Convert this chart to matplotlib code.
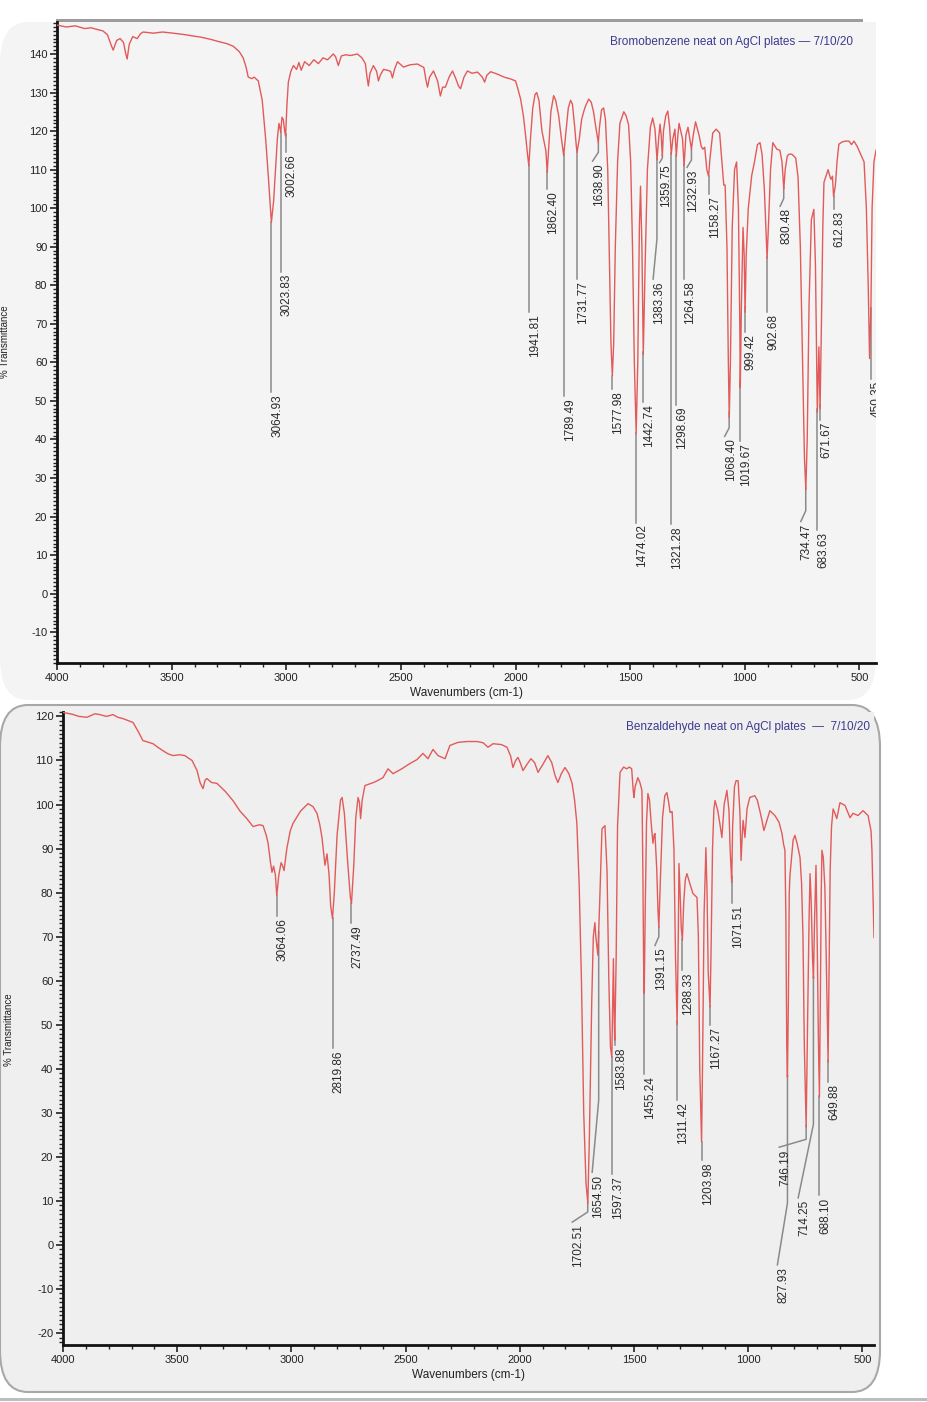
#IR spectra: bromobenzene and benzaldehyde (neat, AgCl plates)

import numpy as np
import matplotlib.pyplot as plt
from matplotlib.ticker import MultipleLocator
from matplotlib.patches import FancyBboxPatch, Rectangle

plt.rcParams['font.family'] = ['Liberation Sans', 'DejaVu Sans']
plt.rcParams['axes.unicode_minus'] = False

# ---- bromobenzene spectrum (wavenumber, %T) ----
bb_wn = [4000, 3960, 3920, 3880, 3850, 3834, 3800, 3780, 3765, 3755, 3740, 3725, 3710, 3700, 3694,
         3685, 3670, 3650, 3635, 3624, 3580, 3540, 3493, 3440, 3400, 3375, 3330, 3300, 3260, 3231,
         3205, 3188, 3175, 3166, 3150, 3140, 3122, 3105, 3090, 3078, 3068, 3065, 3055, 3045, 3039,
         3032, 3024, 3019, 3013, 3007, 3003, 2997, 2991, 2980, 2969, 2955, 2945, 2935, 2920, 2900,
         2880, 2860, 2840, 2820, 2795, 2785, 2773, 2760, 2740, 2720, 2690, 2670, 2655, 2648, 2642,
         2635, 2620, 2606, 2598, 2590, 2576, 2560, 2545, 2537, 2528, 2515, 2489, 2460, 2428, 2400,
         2390, 2384, 2375, 2358, 2340, 2328, 2318, 2306, 2290, 2275, 2260, 2249, 2240, 2225, 2210,
         2190, 2166, 2145, 2135, 2125, 2109, 2080, 2050, 2020, 2000, 1990, 1978, 1966, 1956, 1948,
         1942, 1935, 1925, 1915, 1908, 1898, 1885, 1875, 1868, 1862, 1855, 1846, 1834, 1825, 1812,
         1800, 1790, 1780, 1770, 1760, 1752, 1742, 1735, 1732, 1722, 1712, 1703, 1695, 1681, 1670,
         1660, 1650, 1639, 1634, 1625, 1616, 1608, 1598, 1590, 1584, 1578, 1572, 1565, 1555, 1545,
         1528, 1518, 1507, 1498, 1490, 1482, 1474, 1467, 1460, 1455, 1449, 1443, 1435, 1425, 1412,
         1402, 1392, 1383, 1376, 1370, 1365, 1360, 1355, 1345, 1336, 1328, 1321, 1314, 1305, 1299,
         1292, 1287, 1272, 1265, 1257, 1248, 1240, 1233, 1225, 1215, 1200, 1190, 1183, 1175, 1166,
         1158, 1152, 1140, 1125, 1110, 1100, 1092, 1086, 1078, 1072, 1068, 1063, 1055, 1045, 1036,
         1028, 1022, 1020, 1015, 1008, 1003, 999, 994, 985, 970, 958, 945, 934, 925, 915,
         906, 903, 896, 888, 878, 868, 860, 847, 838, 830, 824, 815, 808, 795, 778,
         768, 758, 748, 740, 734, 728, 720, 710, 699, 692, 686, 684, 677, 672, 666,
         660, 655, 645, 637, 628, 624, 618, 613, 605, 598, 590, 575, 560, 546, 535,
         524, 510, 495, 480, 470, 462, 456, 450, 445, 437, 428]
bb_T = [147.5, 147.0, 147.3, 146.6, 146.8, 146.5, 146.0, 145.0, 142.5, 141.0, 143.5, 144.0, 143.0, 140.0, 138.7,
        142.5, 144.5, 144.0, 145.3, 145.7, 145.4, 145.7, 145.4, 145.0, 144.6, 144.4, 143.8, 143.3, 142.7, 142.0,
        140.6, 139.0, 136.5, 134.0, 133.6, 134.0, 133.0, 128.0, 118.0, 108.0, 99.0, 96.3, 102.0, 112.0, 118.0,
        122.0, 119.7, 123.6, 123.0, 120.0, 118.7, 127.0, 132.7, 135.5, 137.0, 136.0, 137.8, 135.8, 138.0, 137.0,
        138.5, 137.5, 139.0, 138.5, 140.0, 139.3, 137.0, 139.5, 139.8, 139.6, 140.0, 139.0, 137.5, 134.0, 131.7,
        135.0, 137.0, 135.5, 133.0, 134.5, 136.0, 135.8, 135.5, 133.8, 136.0, 138.0, 136.6, 137.2, 137.4, 136.5,
        133.0, 131.4, 134.0, 135.6, 133.0, 129.1, 131.4, 131.4, 134.0, 135.6, 133.5, 131.7, 131.0, 134.0, 135.6,
        135.0, 135.3, 134.0, 132.7, 134.5, 135.4, 134.8, 134.0, 133.5, 133.0, 131.0, 128.3, 124.0, 118.7, 114.0,
        111.0, 118.0, 126.0, 129.5, 130.0, 128.0, 120.0, 117.0, 115.0, 109.3, 116.0, 125.0, 129.2, 128.0, 124.0,
        118.0, 113.6, 120.0, 126.0, 128.0, 127.0, 121.0, 116.0, 114.5, 118.0, 123.0, 125.0, 126.5, 128.3, 127.5,
        125.0, 121.0, 117.0, 121.0, 125.5, 126.0, 123.0, 110.0, 85.0, 65.0, 56.5, 65.0, 90.0, 112.0, 122.0,
        125.0, 124.0, 121.6, 112.0, 90.0, 60.0, 41.5, 60.0, 95.0, 105.7, 90.0, 62.0, 85.0, 110.0, 121.0,
        123.4, 120.5, 112.5, 118.0, 121.8, 119.0, 113.5, 120.0, 124.0, 125.2, 121.0, 114.0, 118.0, 120.5, 113.5,
        119.0, 122.0, 118.0, 111.0, 119.0, 121.0, 118.0, 115.3, 119.0, 122.4, 119.0, 116.0, 115.3, 115.8, 110.0,
        108.3, 113.0, 119.5, 120.5, 119.5, 112.0, 106.0, 106.0, 90.0, 60.0, 45.7, 60.0, 95.0, 110.0, 112.0,
        100.0, 70.0, 53.5, 75.0, 95.0, 88.0, 73.0, 88.0, 100.0, 108.5, 112.0, 116.5, 117.0, 114.0, 105.0,
        92.0, 87.0, 97.0, 110.0, 117.0, 116.0, 115.3, 115.0, 112.0, 105.0, 110.0, 113.5, 114.0, 114.0, 113.0,
        108.0, 90.0, 60.0, 35.0, 27.0, 40.0, 75.0, 97.0, 99.7, 85.0, 55.0, 47.0, 64.0, 48.0, 70.0,
        95.0, 106.7, 108.5, 110.0, 108.0, 107.5, 108.3, 103.0, 106.0, 112.0, 116.6, 117.2, 117.4, 117.4, 116.5,
        117.4, 116.0, 114.0, 112.0, 100.0, 80.0, 61.0, 75.0, 100.0, 112.0, 115.0]

# ---- benzaldehyde spectrum (wavenumber, %T) ----
bz_wn = [4000, 3960, 3930, 3895, 3860, 3838, 3810, 3781, 3760, 3737, 3693, 3670, 3650, 3630, 3606,
         3585, 3562, 3540, 3518, 3490, 3466, 3450, 3435, 3413, 3400, 3387, 3378, 3370, 3350, 3326,
         3290, 3256, 3225, 3195, 3168, 3140, 3124, 3110, 3102, 3092, 3085, 3078, 3070, 3064, 3055,
         3045, 3038, 3032, 3020, 3005, 2993, 2960, 2927, 2905, 2888, 2876, 2866, 2853, 2844, 2835,
         2828, 2820, 2812, 2800, 2785, 2778, 2768, 2755, 2742, 2737, 2727, 2718, 2708, 2702, 2697,
         2690, 2678, 2640, 2620, 2599, 2577, 2555, 2520, 2481, 2450, 2424, 2402, 2380, 2358, 2327,
         2306, 2271, 2230, 2187, 2160, 2139, 2117, 2080, 2056, 2040, 2030, 2018, 2008, 1998, 1986,
         1970, 1951, 1935, 1920, 1900, 1877, 1860, 1845, 1833, 1818, 1802, 1785, 1771, 1760, 1750,
         1740, 1730, 1720, 1710, 1702, 1695, 1685, 1678, 1671, 1667, 1658, 1650, 1640, 1627, 1618,
         1610, 1603, 1597, 1593, 1590, 1586, 1584, 1578, 1572, 1561, 1545, 1532, 1520, 1510, 1503,
         1500, 1495, 1483, 1474, 1465, 1461, 1458, 1455, 1451, 1445, 1439, 1432, 1425, 1417, 1412,
         1408, 1400, 1395, 1391, 1385, 1375, 1365, 1356, 1348, 1342, 1333, 1325, 1318, 1311, 1306,
         1303, 1298, 1293, 1288, 1282, 1275, 1268, 1255, 1242, 1224, 1218, 1212, 1204, 1200, 1193,
         1185, 1180, 1175, 1167, 1163, 1156, 1150, 1145, 1133, 1122, 1115, 1105, 1093, 1084, 1079,
         1072, 1068, 1060, 1053, 1044, 1036, 1031, 1026, 1022, 1014, 1005, 993, 971, 960, 949,
         940, 931, 920, 905, 883, 865, 852, 845, 839, 835, 831, 828, 824, 820, 817,
         810, 803, 795, 785, 773, 766, 760, 754, 746, 740, 733, 729, 724, 718, 714,
         710, 703, 698, 692, 688, 684, 680, 677, 671, 664, 658, 652, 650, 646, 641,
         635, 628, 620, 612, 598, 576, 554, 541, 519, 497, 475, 462, 458, 449]
bz_T = [120.9, 120.5, 120.0, 119.8, 120.6, 120.4, 120.0, 120.4, 119.8, 119.5, 118.6, 116.5, 114.5, 114.2, 113.8,
        113.0, 112.2, 111.5, 111.1, 111.3, 111.1, 110.5, 110.0, 107.7, 105.0, 103.6, 105.5, 105.9, 105.0, 104.8,
        103.0, 100.9, 98.5, 96.8, 95.0, 95.4, 95.2, 93.0, 91.2, 87.0, 84.6, 86.0, 84.0, 79.4, 84.0,
        86.8, 86.0, 85.0, 90.0, 94.0, 95.7, 98.5, 100.2, 99.5, 98.0, 95.5, 92.5, 86.2, 88.8, 84.0,
        77.0, 74.1, 80.0, 93.0, 101.0, 101.6, 98.0, 88.0, 79.0, 77.5, 86.0, 97.0, 101.6, 100.5, 96.8,
        101.0, 104.3, 105.0, 105.5, 106.1, 108.1, 107.0, 108.0, 109.3, 110.2, 111.6, 110.4, 112.5, 111.1, 110.4,
        113.4, 114.1, 114.3, 114.3, 114.0, 113.0, 113.8, 113.6, 113.0, 111.0, 108.4, 110.0, 110.7, 109.5, 107.7,
        109.0, 110.4, 109.5, 107.3, 109.0, 111.1, 109.5, 106.5, 105.0, 107.0, 108.4, 107.0, 104.8, 101.0, 95.7,
        82.0, 60.0, 30.0, 14.0, 9.5, 25.0, 55.0, 70.0, 73.2, 70.0, 65.8, 78.0, 94.5, 95.2, 85.0,
        60.0, 45.0, 42.6, 55.0, 65.0, 50.0, 46.5, 65.0, 95.0, 107.3, 108.5, 108.1, 108.5, 108.1, 103.0,
        101.6, 104.0, 106.1, 105.0, 103.2, 85.0, 65.0, 57.1, 75.0, 96.0, 102.5, 101.0, 96.0, 91.2, 93.0,
        93.4, 85.0, 76.0, 72.1, 82.0, 97.0, 102.0, 102.7, 100.5, 98.2, 98.4, 90.0, 65.0, 50.0, 70.0,
        86.6, 80.0, 72.0, 69.2, 78.0, 83.0, 84.3, 82.0, 79.8, 78.9, 70.0, 40.0, 23.4, 40.0, 75.0,
        90.2, 80.0, 62.0, 54.0, 65.0, 90.0, 99.0, 100.9, 98.6, 95.0, 92.5, 100.0, 103.2, 98.6, 90.0,
        82.3, 95.0, 104.0, 105.4, 105.4, 98.0, 87.3, 93.0, 96.4, 92.5, 99.0, 101.6, 102.0, 101.0, 98.6,
        96.5, 94.1, 96.0, 98.6, 97.5, 96.0, 93.4, 91.0, 89.6, 75.0, 45.0, 38.1, 55.0, 80.0, 83.9,
        88.0, 92.0, 93.0, 91.0, 88.0, 82.0, 70.0, 45.0, 26.8, 50.0, 75.0, 84.3, 78.0, 65.0, 60.5,
        72.0, 86.2, 70.0, 45.0, 33.6, 55.0, 80.0, 89.6, 88.0, 81.0, 65.0, 47.0, 41.5, 60.0, 85.0,
        95.0, 99.0, 98.0, 96.8, 100.4, 99.8, 97.0, 98.0, 97.5, 98.6, 97.5, 94.0, 89.6, 69.8]

# ---- peak picks ----
bb_peaks = [3064.93, 3023.83, 3002.66, 1941.81, 1862.40, 1789.49, 1731.77, 1638.90, 1577.98,
            1474.02, 1442.74, 1383.36, 1359.75, 1321.28, 1298.69, 1264.58, 1232.93, 1158.27,
            1068.40, 1019.67, 999.42, 902.68, 830.48, 734.47, 683.63, 671.67, 612.83, 450.35]
bz_peaks = [3064.06, 2819.86, 2737.49, 1702.51, 1654.50, 1597.37, 1583.88, 1455.24, 1391.15,
            1311.42, 1288.33, 1203.98, 1167.27, 1071.51, 827.93, 746.19, 714.25, 688.10, 649.88]

# where the label text starts (top of rotated text, %T)
bb_label_T = [52.2, 83.4, 114.5, 73.0, 105.0, 51.2, 81.6, 112.2, 53.0,
              18.4, 49.6, 81.6, 111.8, 18.0, 49.0, 81.6, 110.6, 103.6,
              40.8, 39.5, 67.8, 73.0, 100.5, 18.7, 16.6, 45.0, 99.7, 55.6]
bz_label_T = [74.8, 44.7, 73.0, 5.2, 16.5, 16.1, 45.3, 38.8, 68.0,
              32.9, 62.4, 19.3, 49.9, 77.6, -4.5, 22.2, 10.7, 11.3, 37.0]

# bent leaders: peak -> (label wavenumber, %T where the bend starts)
bb_bends = {1638.90: (1664, 114.5), 1383.36: (1400, 92.0), 1359.75: (1372, 113.0),
            1232.93: (1252, 112.5), 1068.40: (1088, 43.0), 830.48: (846, 102.5),
            734.47: (756, 21.5)}
bz_bends = {1702.51: (1770, 7.5), 1654.50: (1683, 32.9), 1391.15: (1408, 70.0),
            827.93: (872, 9.5), 746.19: (864, 24.0), 714.25: (781, 27.4)}

red = '#e25a5a'
grey = '#8a8a8a'

fig = plt.figure(figsize=(9.28, 14.02), dpi=100, facecolor='white')

# card backgrounds (behind the axes)
fig.patches.append(FancyBboxPatch((0.0, 1 - 700 / 1402), 876 / 928, 678 / 1402,
                                  boxstyle='round,pad=0,rounding_size=0.03', transform=fig.transFigure,
                                  facecolor='#f4f4f4', edgecolor='none', zorder=-3))
fig.patches.append(Rectangle((0.06, 1 - 22 / 1402), 0.87, 2.5 / 1402, transform=fig.transFigure,
                             facecolor='#9c9c9c', edgecolor='none', zorder=-2))
fig.patches.append(FancyBboxPatch((0.0, 1 - 1392 / 1402), 880 / 928, 687 / 1402,
                                  boxstyle='round,pad=0,rounding_size=0.03', transform=fig.transFigure,
                                  facecolor='#efefef', edgecolor='#a8a8a8', linewidth=1.5, zorder=-3))
fig.patches.append(Rectangle((0.0, 1 - 1401 / 1402), 1.0, 3 / 1402, transform=fig.transFigure,
                             facecolor='#bdbdbd', edgecolor='none', zorder=-2))

ax1 = fig.add_axes([57 / 928, 1 - 663 / 1402, (876 - 57) / 928, (663 - 22) / 1402])
ax2 = fig.add_axes([63 / 928, 1 - 1345 / 1402, (874 - 63) / 928, (1345 - 712) / 1402])

panels = [(ax1, bb_wn, bb_T, bb_peaks, bb_label_T, bb_bends, (-18, 148.3), (4000, 428), 140, -10, '#f4f4f4'),
          (ax2, bz_wn, bz_T, bz_peaks, bz_label_T, bz_bends, (-22.7, 121), (4000, 449), 120, -20, '#efefef')]

for ax, wn, tr, peaks, lab_T, bends, ylim, xlim, ytop, ybot, bg in panels:
    wn = np.array(wn, float)
    tr = np.array(tr, float)
    ax.set_facecolor(bg)
    ax.plot(wn, tr, color=red, lw=1.0, zorder=3)

    for w, lt in zip(peaks, lab_T):
        pt = np.interp(w, wn[::-1], tr[::-1])
        if w in bends:
            lw_, kt = bends[w]
            ax.plot([w, w, lw_], [pt, kt, lt], color=grey, lw=1.1, zorder=2)
        else:
            lw_ = w
            ax.plot([w, w], [pt, lt], color=grey, lw=1.1, zorder=2)
        ax.text(lw_, lt - 0.5, '%.2f' % w, rotation=90, ha='left', va='top',
                fontsize=8.5, color='#2a2a2a', clip_on=True, zorder=4)

    ax.set_xlim(*xlim)
    ax.set_ylim(*ylim)
    ax.set_yticks(np.arange(ybot, ytop + 1, 10))
    ax.set_xticks([4000, 3500, 3000, 2500, 2000, 1500, 1000, 500])
    ax.yaxis.set_minor_locator(MultipleLocator(1))
    ax.xaxis.set_minor_locator(MultipleLocator(100))
    ax.tick_params(axis='both', which='major', labelsize=8, length=5, width=1.2, color='#222222',
                   labelcolor='#222222', pad=2)
    ax.tick_params(axis='both', which='minor', length=3, width=1.0, color='#222222')
    for s in ['top', 'right']:
        ax.spines[s].set_visible(False)
    for s in ['left', 'bottom']:
        ax.spines[s].set_linewidth(2.0)
        ax.spines[s].set_color('#111111')
    ax.set_xlabel('Wavenumbers (cm-1)', fontsize=8.5, color='#222222', labelpad=3)

fig.text(853 / 928, 1 - 42 / 1402, 'Bromobenzene neat on AgCl plates \u2014 7/10/20',
         ha='right', va='center', fontsize=8.5, color='#3b3b8e')
fig.text(870 / 928, 1 - 727 / 1402, 'Benzaldehyde neat on AgCl plates  \u2014  7/10/20',
         ha='right', va='center', fontsize=8.5, color='#3b3b8e')

fig.text(5 / 928, 1 - 342 / 1402, '% Transmittance', rotation=90, ha='center', va='center',
         fontsize=7, color='#222222')
fig.text(9 / 928, 1 - 1030 / 1402, '% Transmittance', rotation=90, ha='center', va='center',
         fontsize=7, color='#222222')

fig.savefig('out.png', dpi=100, facecolor='white')
